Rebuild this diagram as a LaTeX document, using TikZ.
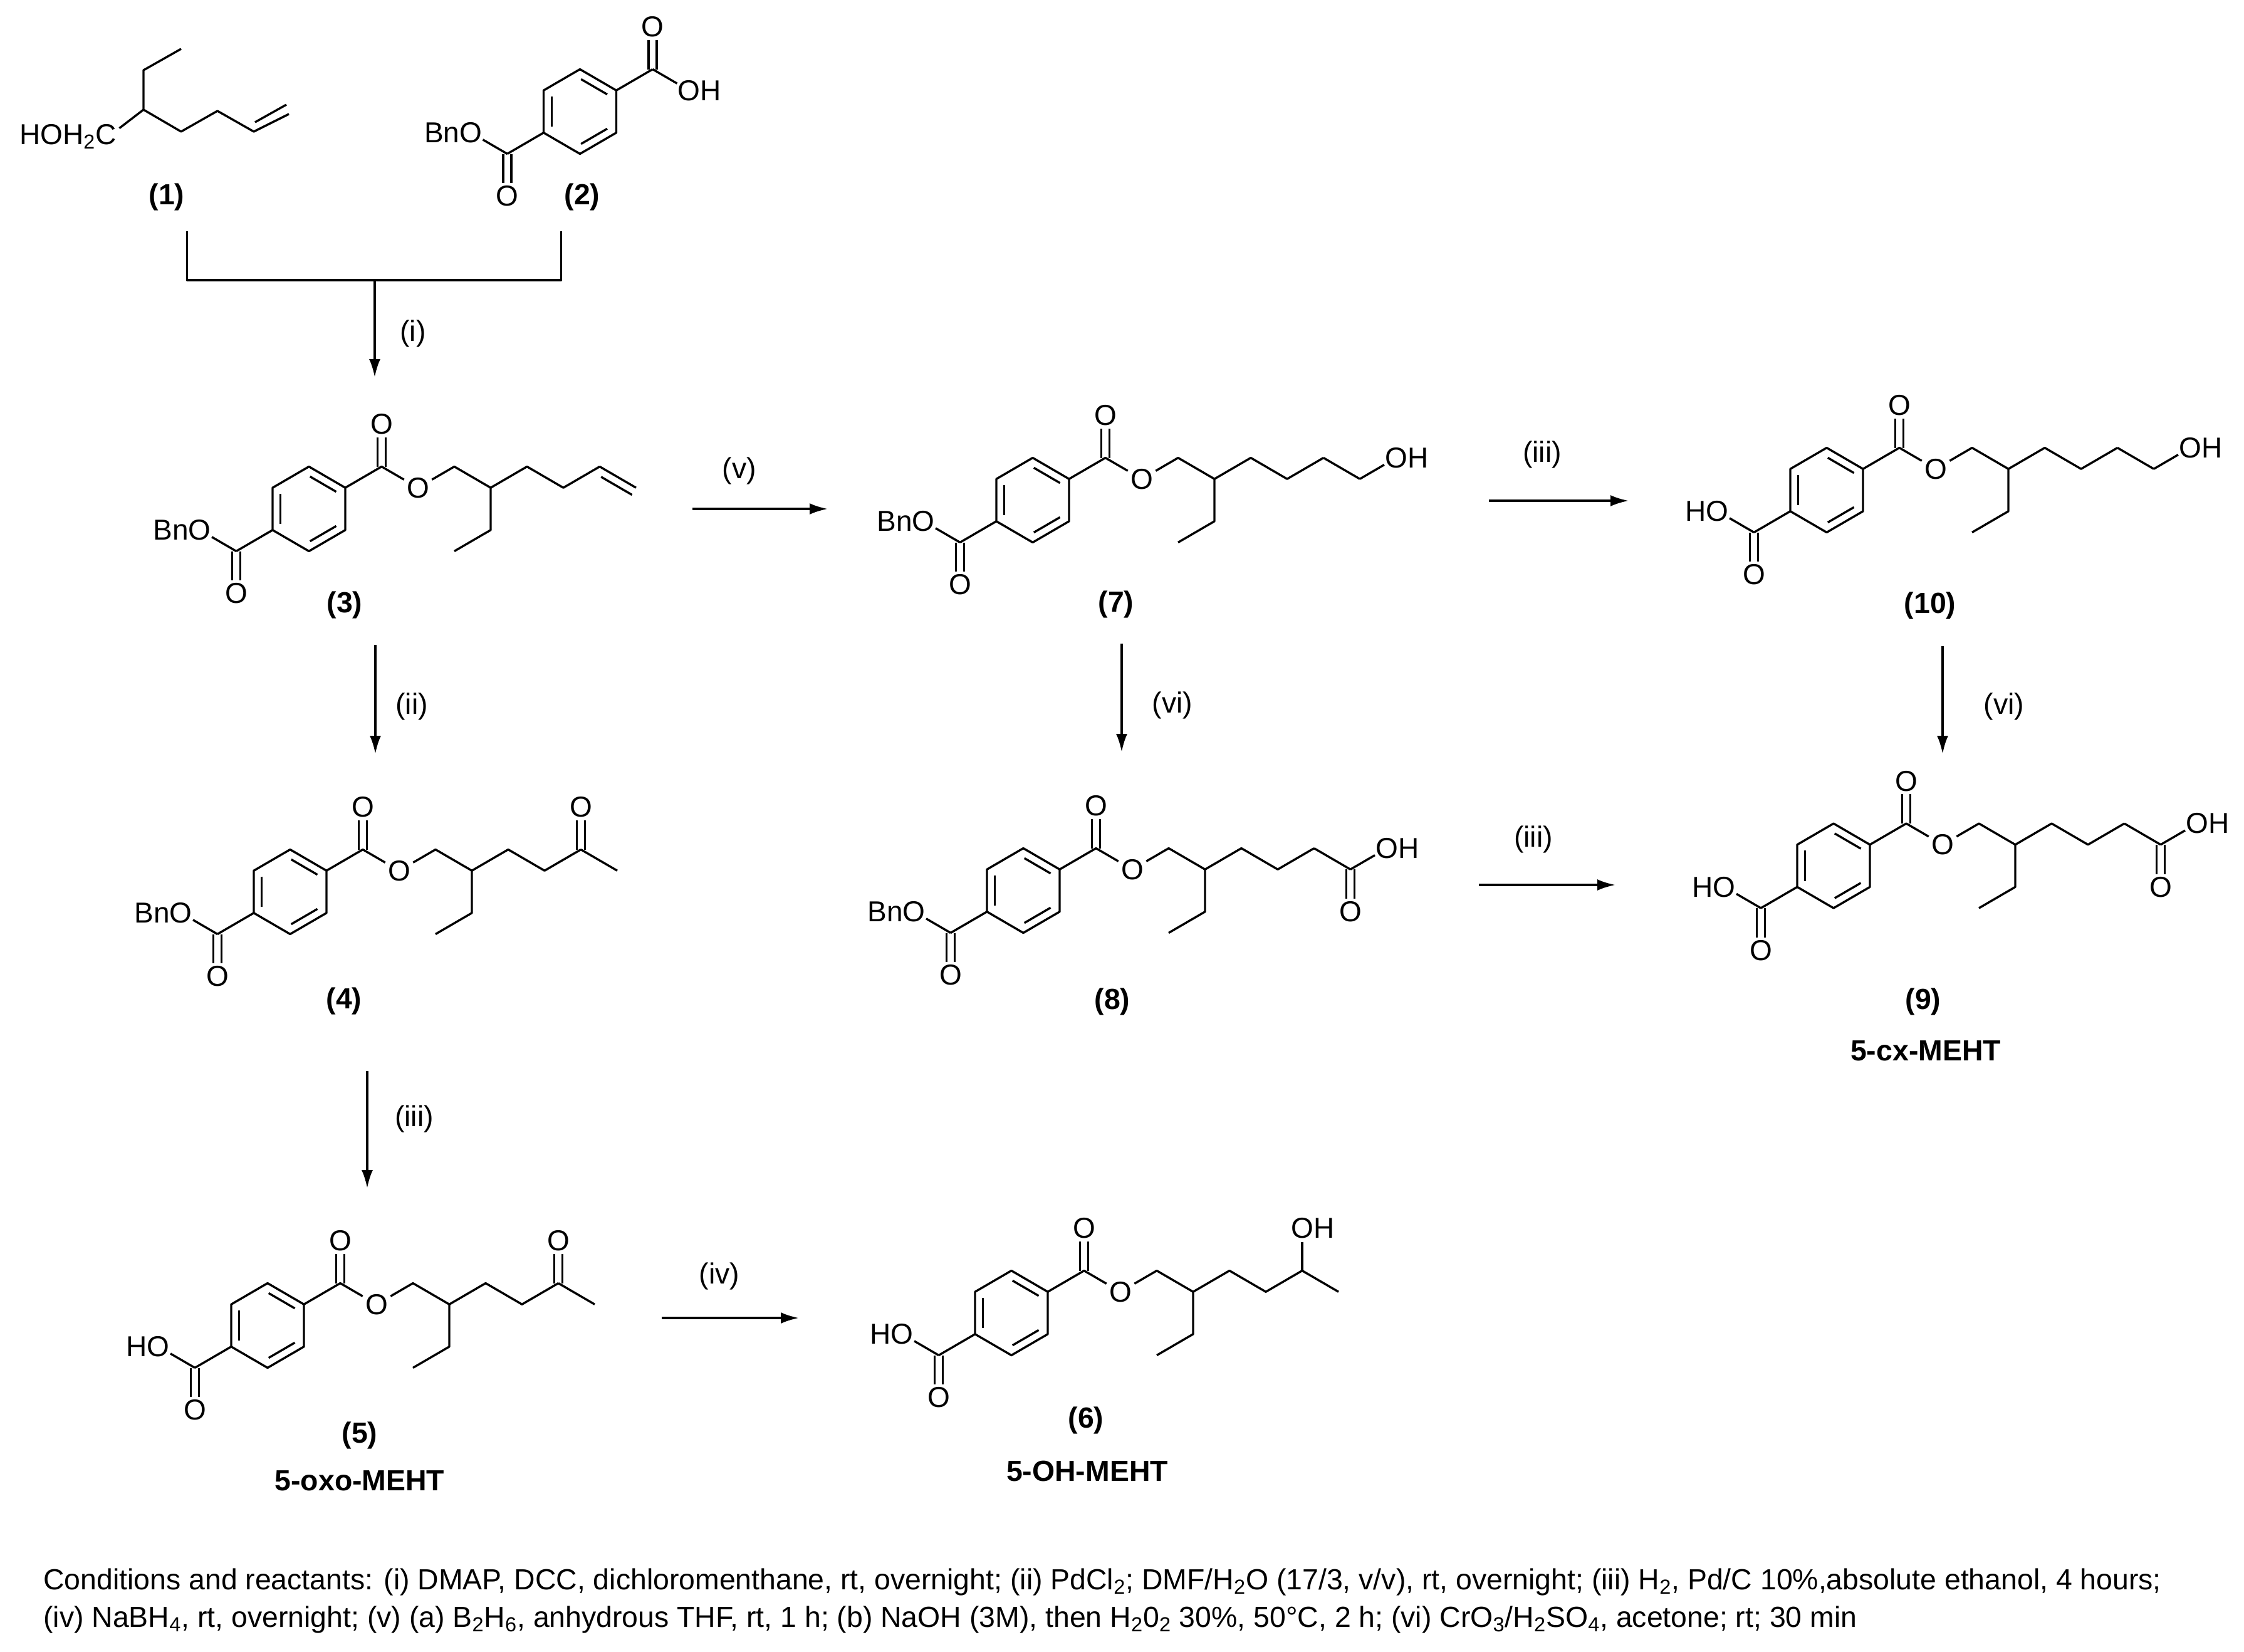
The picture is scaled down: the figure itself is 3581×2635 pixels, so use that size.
\documentclass[tikz,border=0pt]{standalone}
\usepackage{fontspec}
\setmainfont{Liberation Sans}
\usetikzlibrary{calc}
\usetikzlibrary{arrows.meta}

\tikzset{
	bond/.style={draw=black,line width=1.7pt,line join=round},
	toatom/.style={bond,shorten >=11pt},
	rxn/.style={draw=black,line width=1.7pt,->},
	atom/.style={font=\fontsize{23}{28}\selectfont,inner sep=2pt},
	cond/.style={font=\fontsize{23.2}{28}\selectfont,inner sep=0pt},
	cmpd/.style={font=\fontsize{23.2}{28}\selectfont\bfseries,inner sep=0pt},
	note/.style={font=\fontsize{23.2}{30}\selectfont,inner sep=0pt,align=left,anchor=west},
}

% carbonyl bond, always upright
\newcommand{\cdbl}[2]{%
	\draw[bond] ([xshift=-3.25pt]#1) -- ([xshift=-3.25pt]#2);
	\draw[bond] ([xshift=3.25pt]#1) -- ([xshift=3.25pt]#2);
}
% ring with both carbonyls and the branched chain, #5 is what ends the chain
\newcommand{\core}[5]{%
	\begin{scope}[shift={(#2,#3)},x=29pt,y=-16.875pt]
		\coordinate (#1x) at (0,0);
		\foreach \n/\p in {a/{0,-2},b/{1,-1},c/{1,1},d/{0,2},e/{-1,1},f/{-1,-1},
			k/{2,-2},l/{-2,2},m/{4,-2},h/{5,-1},s/{5,1},t/{4,2},u/{6,-2},v/{7,-1},w/{8,-2},z/{9,-1}}{
			\coordinate (#1\n) at (\p);
		}
		\node[atom] (#1oa) at (2,-4) {O};
		\node[atom] (#1ob) at (3,-1) {O};
		\node[atom] (#1oc) at (-2,4) {O};
		\coordinate (#1ol) at (-3,1);
		\node[atom,anchor=east,xshift=11pt] (#1lab) at (#1ol) {#4};
		\draw[bond] (#1a) -- (#1b) -- (#1c) -- (#1d) -- (#1e) -- (#1f) -- cycle;
		\foreach \p/\q in {a/b,f/e,c/d}{
			\draw[bond,shorten <=1pt,shorten >=1pt] ($(#1x)!.78!(#1\p)$) -- ($(#1x)!.78!(#1\q)$);
		}
		\draw[bond] (#1b) -- (#1k) -- (#1ob) -- (#1m) -- (#1h) -- (#1u) -- (#1v) -- (#1w);
		\draw[bond] (#1h) -- (#1s) -- (#1t);
		\draw[bond] (#1e) -- (#1l);
		\draw[toatom] (#1l) -- (#1ol);
		\cdbl{#1k}{#1oa.south}
		\cdbl{#1l}{#1oc.north}
		#5
	\end{scope}
}

\begin{document}
\begin{tikzpicture}[x=.5pt,y=-.5pt,>={Latex[length=14.5pt,width=9pt]}]
	\useasboundingbox (0,0) rectangle (3581,2635);

	% compound 1
	\foreach \n/\x/\y in {a/229/175,b/229/112,c/289/78,d/289/210,e/347/177,f/405/210,g/461/182,i/407/195,j/457/167,o/173/218}{
		\coordinate (p\n) at (\x,\y);
	}
	\node[atom,anchor=base east,inner sep=0pt] (plab) at (186,230) {HOH\textsubscript{2}C};
	\draw[bond] (pc) -- (pb) -- (pa) -- (pd) -- (pe) -- (pf) -- (pg);
	\draw[bond] (pi) -- (pj);
	\draw[toatom] (pa) -- (po);

	% compound 2
	\begin{scope}[shift={(925.5,178)},x=29pt,y=-16.875pt]
		\foreach \n/\p in {a/{0,-2},b/{1,-1},c/{1,1},d/{0,2},e/{-1,1},f/{-1,-1},k/{2,-2},l/{-2,2}}{
			\coordinate (q\n) at (\p);
		}
		\coordinate (qx) at (0,0);
		\coordinate (qol) at (-3,1);
		\coordinate (qor) at (3,-1);
		\node[atom] (qoa) at (2,-4) {O};
		\node[atom] (qoc) at (-2,4) {O};
		\node[atom,anchor=east,xshift=11pt] (qlab) at (qol) {BnO};
		\node[atom,anchor=west,xshift=-11pt] (qoh) at (qor) {OH};
		\draw[bond] (qa) -- (qb) -- (qc) -- (qd) -- (qe) -- (qf) -- cycle;
		\foreach \p/\q in {a/b,f/e,c/d}{
			\draw[bond,shorten <=1pt,shorten >=1pt] ($(qx)!.78!(q\p)$) -- ($(qx)!.78!(q\q)$);
		}
		\draw[bond] (qb) -- (qk);
		\draw[bond] (qe) -- (ql);
		\draw[toatom] (qk) -- (qor);
		\draw[toatom] (ql) -- (qol);
		\cdbl{qk}{qoa.south}
		\cdbl{ql}{qoc.north}
	\end{scope}

	% compound 3
	\core{c}{493}{812}{BnO}{
		\draw[bond] (cw) -- (cz);
		\draw[bond] ($(cw)!.15!(cz)+(-3.25pt,-5.65pt)$) -- ($(cz)+(-3.25pt,-5.65pt)$);
	}
	% compound 4
	\core{dd}{463}{1423}{BnO}{
		\node[atom] (ddok) at (8,-4) {O};
		\draw[bond] (ddw) -- (ddz);
		\cdbl{ddw}{ddok.south}
	}
	% compound 5
	\core{ee}{427}{2115}{HO}{
		\node[atom] (eeok) at (8,-4) {O};
		\draw[bond] (eew) -- (eez);
		\cdbl{eew}{eeok.south}
	}
	% compound 6
	\core{ff}{1614}{2095}{HO}{
		\coordinate (ffor) at (8,-4);
		\node[atom,anchor=west,xshift=-11pt] (ffoh) at (ffor) {OH};
		\draw[bond] (ffw) -- (ffz);
		\draw[toatom] (ffw) -- (ffor);
	}
	% compound 7
	\core{gg}{1648}{798}{BnO}{
		\coordinate (ggor) at (10,-2);
		\node[atom,anchor=west,xshift=-11pt] (ggoh) at (ggor) {OH};
		\draw[bond] (ggw) -- (ggz);
		\draw[toatom] (ggz) -- (ggor);
	}
	% compound 8
	\core{hh}{1633}{1421}{BnO}{
		\coordinate (hhor) at (10,-2);
		\node[atom,anchor=west,xshift=-11pt] (hhoh) at (hhor) {OH};
		\node[atom] (hhok) at (9,1) {O};
		\draw[bond] (hhw) -- (hhz);
		\draw[toatom] (hhz) -- (hhor);
		\cdbl{hhz}{hhok.north}
	}
	% compound 9
	\core{ii}{2926}{1381.5}{HO}{
		\coordinate (iior) at (10,-2);
		\node[atom,anchor=west,xshift=-11pt] (iioh) at (iior) {OH};
		\node[atom] (iiok) at (9,1) {O};
		\draw[bond] (iiw) -- (iiz);
		\draw[toatom] (iiz) -- (iior);
		\cdbl{iiz}{iiok.north}
	}
	% compound 10
	\core{jj}{2915}{782}{HO}{
		\coordinate (jjor) at (10,-2);
		\node[atom,anchor=west,xshift=-11pt] (jjoh) at (jjor) {OH};
		\draw[bond] (jjw) -- (jjz);
		\draw[toatom] (jjz) -- (jjor);
	}

	% compound numbers and names
	\foreach \n/\x/\y/\t in {na/266/314/(1),nb/929/314/(2),nc/550/965/(3),nd/549/1597/(4),ne/574/2290/(5),nf/1733/2266/(6),ng/1781/964/(7),nh/1775/1598/(8),ni/3069/1598/(9),nj/3080/966/(10),
		oe/574/2363/5-oxo-MEHT,of/1735/2347/5-OH-MEHT,oi/3073/1677/5-cx-MEHT}{
		\node[cmpd] (\n) at (\x,\y) {\t};
	}

	% bracket over the first step
	\coordinate (ka) at (298.5,369);
	\coordinate (kb) at (895.5,369);
	\coordinate (kc) at (598,447);
	\draw[bond] (ka) |- (kc) -| (kb);

	% reaction arrows
	\foreach \n/\xa/\ya/\xb/\yb/\lx/\ly/\t in {
		ra/598/447/598/602/659/532/(i),
		rb/599/1029/599/1203/657/1127/(ii),
		rc/586/1709/586/1896/661/1785/(iii),
		rd/1105/812/1321/812/1180/751/(v),
		re/2376/799/2599/799/2461/725/(iii),
		rf/1790/1027/1790/1200/1871/1125/(vi),
		rg/2360/1412/2578/1412/2447/1339/(iii),
		rh/3100/1031/3100/1203/3198/1127/(vi),
		ri/1056/2103/1275/2103/1148/2036/(iv)}{
		\coordinate (\n s) at (\xa,\ya);
		\coordinate (\n e) at (\xb,\yb);
		\draw[rxn] (\n s) -- (\n e);
		\node[cond] (\n l) at (\lx,\ly) {\t};
	}

	% conditions
	\node[note] (notes) at (69,2554) {Conditions and reactants: (i) DMAP, DCC, dichloromenthane, rt, overnight; (ii) PdCl\textsubscript{2}; DMF/H\textsubscript{2}O (17/3, v/v), rt, overnight; (iii) H\textsubscript{2}, Pd/C 10\%,absolute ethanol, 4 hours;\\(iv) NaBH\textsubscript{4}, rt, overnight; (v) (a) B\textsubscript{2}H\textsubscript{6}, anhydrous THF, rt, 1 h; (b) NaOH (3M), then H\textsubscript{2}0\textsubscript{2} 30\%, 50°C, 2 h; (vi) CrO\textsubscript{3}/H\textsubscript{2}SO\textsubscript{4}, acetone; rt; 30 min};
\end{tikzpicture}
\end{document}
